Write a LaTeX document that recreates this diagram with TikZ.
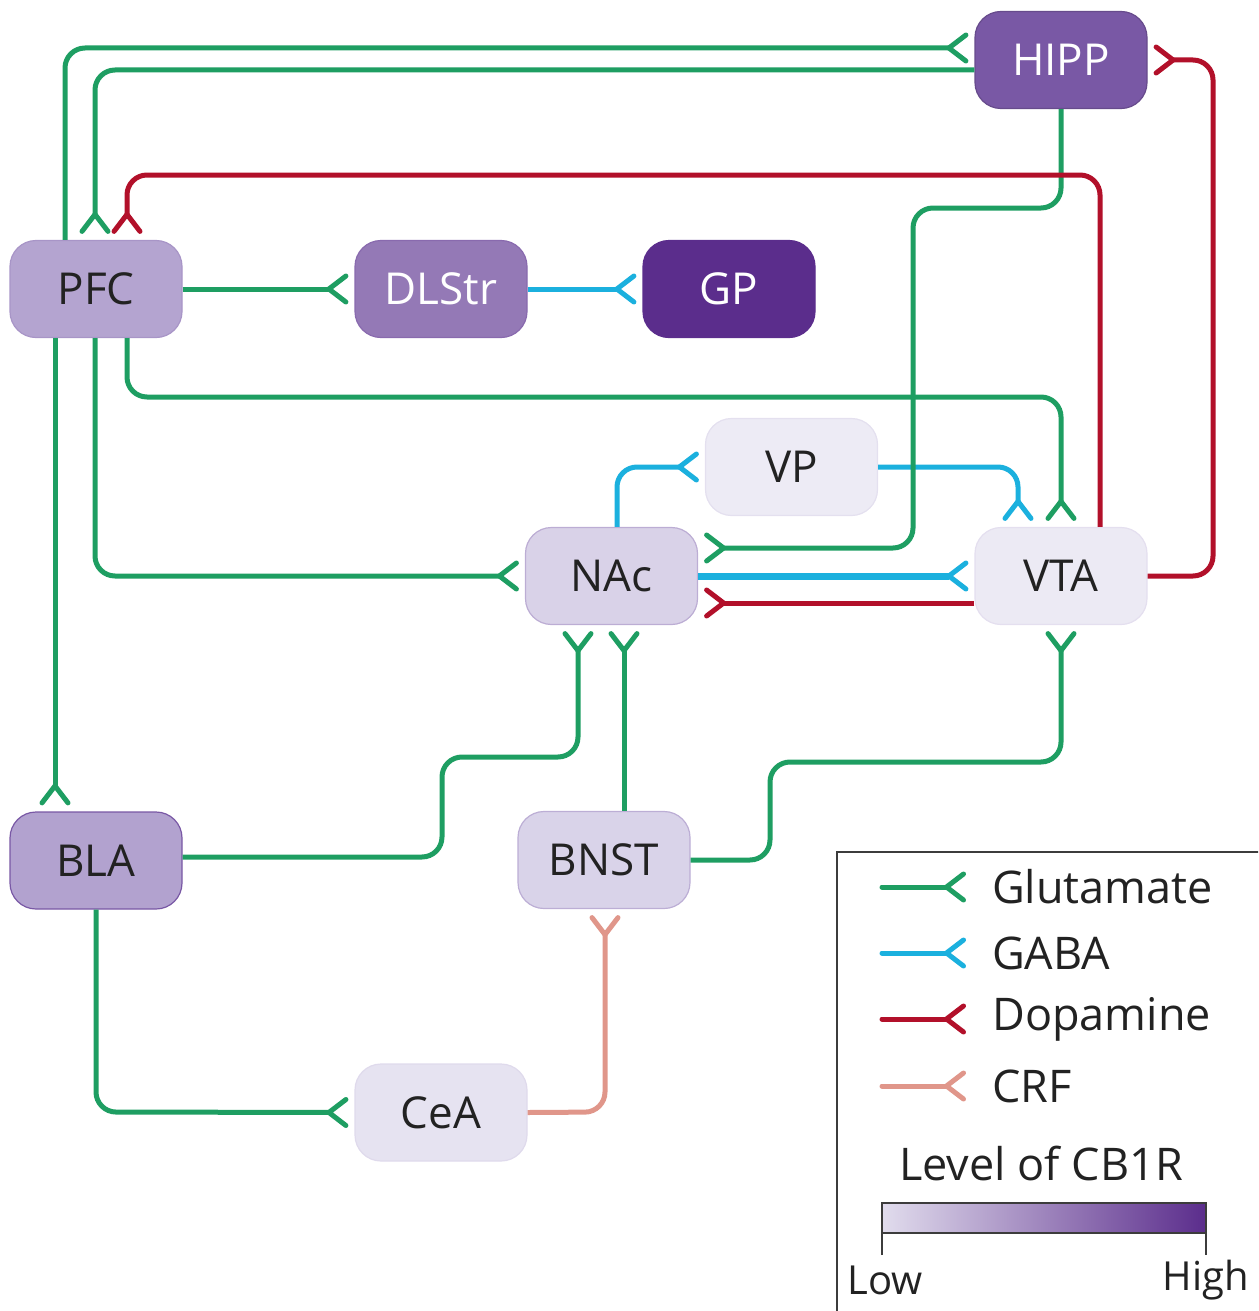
\documentclass[tikz,border=0pt]{standalone}
\usepackage{fontspec}
\setmainfont{Open Sans}
\usetikzlibrary{arrows.meta}
\definecolor{cglu}{RGB}{30,158,98}
\definecolor{cgaba}{RGB}{27,176,222}
\definecolor{cdop}{RGB}{178,16,42}
\definecolor{ccrf}{RGB}{224,150,138}
\definecolor{fhipp}{RGB}{121,88,165}
\definecolor{fpfc}{RGB}{180,164,208}
\definecolor{fdlstr}{RGB}{148,121,182}
\definecolor{fgp}{RGB}{91,45,140}
\definecolor{fvp}{RGB}{237,235,245}
\definecolor{fnac}{RGB}{217,210,232}
\definecolor{fvta}{RGB}{236,234,244}
\definecolor{fbla}{RGB}{178,162,207}
\definecolor{fbnst}{RGB}{217,211,233}
\definecolor{fcea}{RGB}{230,227,241}
\definecolor{ctext}{RGB}{34,34,34}
\definecolor{cframe}{RGB}{60,60,60}
\begin{document}
\begin{tikzpicture}[x=1pt,y=-1pt,
  region/.style={rounded corners=26pt, minimum width=172pt, minimum height=97pt,
    line width=1.2pt, text=ctext, inner sep=0pt,
    font=\fontsize{44}{50}\selectfont},
  lighttext/.style={text=white},
  fork/.tip={Straight Barb[reversed,length=17pt,width=26pt,line width=5pt,round]},
  conn/.style={line width=5pt, rounded corners=20pt, -fork, shorten >=6pt},
  glu/.style={conn, draw=cglu},
  gaba/.style={conn, draw=cgaba},
  dop/.style={conn, draw=cdop},
  crf/.style={conn, draw=ccrf},
  legtext/.style={anchor=west, text=ctext, inner sep=0pt, font=\fontsize{45}{50}\selectfont},
]
\useasboundingbox (0,0) rectangle (1258,1311);
\clip (0,0) rectangle (1258,1311);

% nodes
\node[region, fill=fhipp, draw=fhipp!85!black, lighttext] (hipp) at (1061,60) {HIPP};
\node[region, fill=fpfc, draw=fpfc!80!fhipp] (pfc) at (96,289) {PFC};
\node[region, fill=fdlstr, draw=fdlstr!80!fgp, lighttext] (dlstr) at (441,289) {DLStr};
\node[region, fill=fgp, draw=fgp, lighttext] (gp) at (729,289) {GP};
\node[region, fill=fvp, draw=fvp!85!fpfc] (vp) at (791.5,467) {VP};
\node[region, fill=fnac, draw=fnac!70!fhipp] (nac) at (611.5,576) {NAc};
\node[region, fill=fvta, draw=fvta!85!fpfc] (vta) at (1061,576) {VTA};
\node[region, fill=fbla, draw=fhipp] (bla) at (96,860.5) {BLA};
\node[region, fill=fbnst, draw=fbnst!70!fhipp] (bnst) at (604,860) {BNST};
\node[region, fill=fcea, draw=fcea!85!fpfc] (cea) at (441,1112.5) {CeA};

% connectors
\draw[glu] (pfc.north -| 65,0) -- (65,48) -- (hipp.west |- 0,48);
\draw[glu] (hipp.west |- 0,70) -- (95,70) -- (pfc.north -| 95,0);
\draw[gaba] (nac.north -| 617,0) -- (617,467) -- (vp.west);
\draw[gaba] (vp.east) -- (1018,467) -- (vta.north -| 1018,0);
\draw[glu] (pfc.south -| 127,0) -- (127,397) -- (1061,397) -- (vta.north);
\draw[glu] (hipp.south) -- (1061,208) -- (913,208) -- (913,548) -- (nac.east |- 0,548);
\draw[dop] (vta.north -| 1100,0) -- (1100,175) -- (127,175) -- (pfc.north -| 127,0);
\draw[dop] (vta.east) -- (1213,576) -- (1213,60) -- (hipp.east);
\draw[glu] (pfc.east) -- (dlstr.west);
\draw[gaba] (dlstr.east) -- (gp.west);
\draw[glu] (pfc.south -| 95,0) -- (95,576) -- (nac.west);
\draw[glu] (pfc.south -| 55,0) -- (bla.north -| 55,0);
\draw[gaba, line width=7pt] (nac.east) -- (vta.west);
\draw[dop] (vta.west |- 0,603) -- (nac.east |- 0,603);
\draw[glu] (bla.east |- 0,857) -- (442,857) -- (442,757) -- (578,757) -- (nac.south -| 578,0);
\draw[glu] (bnst.north -| 624,0) -- (nac.south -| 624,0);
\draw[glu] (bnst.east) -- (770,860) -- (770,762) -- (1061,762) -- (vta.south);
\draw[glu] (bla.south) -- (96,1112) -- (cea.west);
\draw[crf] (cea.east) -- (605,1112) -- (bnst.south -| 605,0);

% legend
\draw[cframe, line width=1.8pt] (837,1330) -- (837,852) -- (1270,852);
\coordinate (lg1) at (882,887);
\coordinate (lg2) at (882,953);
\coordinate (lg3) at (882,1019);
\coordinate (lg4) at (882,1086);
\coordinate (lg1e) at (972,887);
\coordinate (lg2e) at (972,953);
\coordinate (lg3e) at (972,1019);
\coordinate (lg4e) at (972,1086);
\draw[glu, line cap=round] (lg1) -- (lg1e);
\draw[gaba, line cap=round] (lg2) -- (lg2e);
\draw[dop, line cap=round] (lg3) -- (lg3e);
\draw[crf, line cap=round] (lg4) -- (lg4e);
\node[legtext] (tglu) at (992,887) {Glutamate};
\node[legtext] (tgaba) at (992,953) {GABA};
\node[legtext] (tdop) at (992,1019) {Dopamine};
\node[legtext] (tcrf) at (992,1086) {CRF};
\node[text=ctext, inner sep=0pt, font=\fontsize{45}{50}\selectfont] (tlevel) at (1041,1163) {Level of CB1R};
\shade[left color=fvta!80!fpfc, right color=fgp] (882,1203) rectangle (1206,1233);
\draw[cframe, line width=1.8pt] (882,1255) -- (882,1203) -- (1206,1203) -- (1206,1255);
\draw[cframe, line width=1.8pt] (882,1233) -- (1206,1233);
\node[text=ctext, inner sep=0pt, font=\fontsize{40}{46}\selectfont] (tlow) at (885,1280) {Low};
\node[text=ctext, inner sep=0pt, font=\fontsize{40}{46}\selectfont] (thigh) at (1206,1280) {High};
\end{tikzpicture}
\end{document}
